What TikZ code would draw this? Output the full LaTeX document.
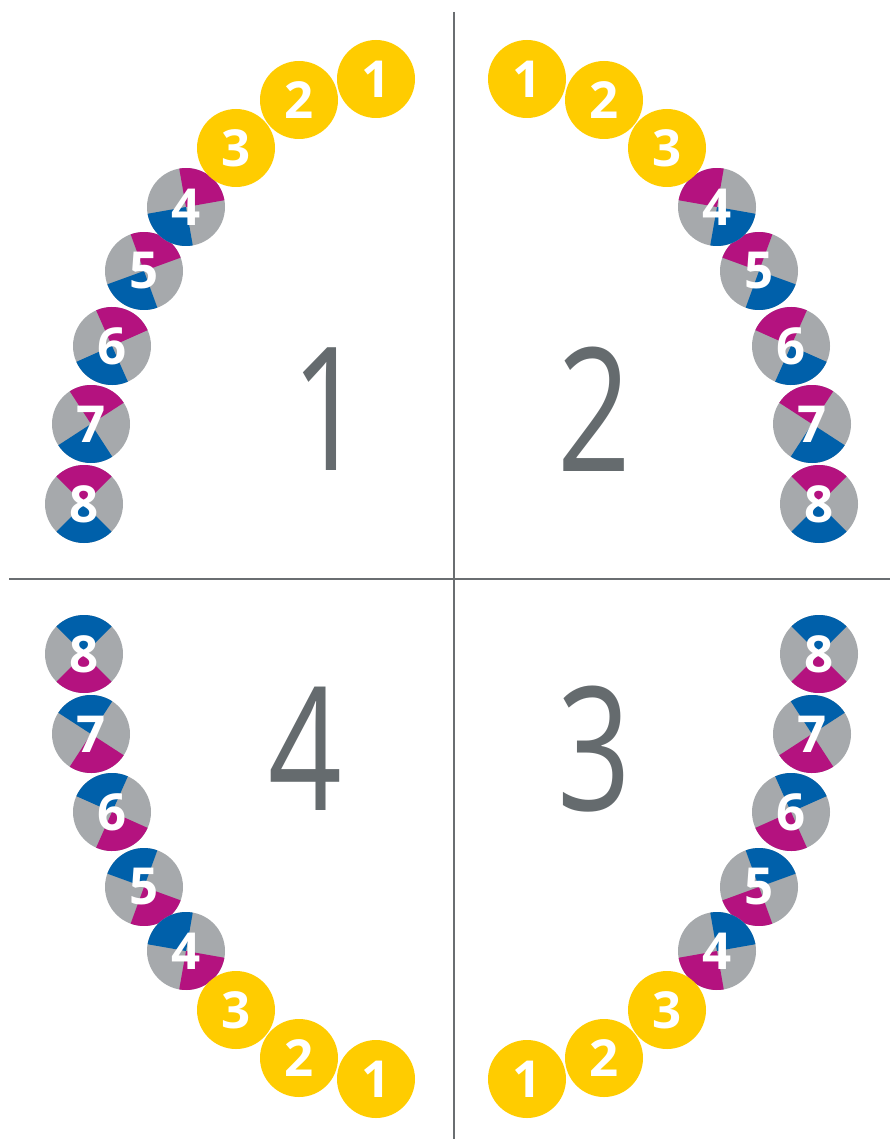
\documentclass[tikz,border=0pt]{standalone}
\usepackage{fontspec}
\setmainfont{Open Sans}
\usepackage{xcolor}
\usepackage{tikz}
\usetikzlibrary{positioning}
\definecolor{toothyellow}{HTML}{FFCC00}
\definecolor{toothmagenta}{HTML}{B4127F}
\definecolor{toothblue}{HTML}{0060AA}
\definecolor{toothgray}{HTML}{A6A9AC}
\definecolor{linegray}{HTML}{6A6E71}
\definecolor{quadgray}{HTML}{656B6E}

\tikzset{
  toothnum/.style={text=white, inner sep=0pt,
    font=\fontsize{51}{51}\selectfont\bfseries},
  quadnum/.style={text=quadgray, inner sep=0pt, xscale=0.75, transform shape,
    font=\fontsize{172}{172}\selectfont},
  axisline/.style={draw=linegray, line width=2pt}
}

\begin{document}
\begin{tikzpicture}[x=1pt, y=1pt]
    \useasboundingbox (0,0) rectangle (890,-1139);

    % cross between the quadrants
    \coordinate (axistop) at (454,-12);
    \coordinate (axisbottom) at (454,-1139);
    \coordinate (axisleft) at (9,-579);
    \coordinate (axisright) at (890,-579);
    \draw[axisline] (axistop) -- (axisbottom);
    \draw[axisline] (axisleft) -- (axisright);

    % quadrant numbers
    \node[quadnum] (quad1) at (328,-409) {1};
    \node[quadnum] (quad2) at (594,-409) {2};
    \node[quadnum] (quad3) at (594,-749) {3};
    \node[quadnum] (quad4) at (305,-749) {4};

    % teeth of quadrant 1, mirrored into the other three
    \foreach \q/\xs/\ys/\xo/\yo in {1/1/1/0/0, 2/-1/1/903/0,
                                    3/-1/-1/903/-1158, 4/1/-1/0/-1158} {
      \begin{scope}[shift={(\xo,\yo)}, xscale=\xs, yscale=\ys]
        \foreach \t/\x/\y/\r in {8/84/504/0, 7/91/424/-12, 6/112/346/-21,
                                 5/144/271/-25, 4/186/207/-35} {
          \fill[toothgray] (\x,-\y) circle (39);
          \fill[toothmagenta] (\x,-\y) -- ++(45+\r:39)
            arc[start angle=45+\r, end angle=135+\r, radius=39] -- cycle;
          \fill[toothblue] (\x,-\y) -- ++(225+\r:39)
            arc[start angle=225+\r, end angle=315+\r, radius=39] -- cycle;
        }
        \foreach \t/\x/\y in {3/236/148, 2/299/100, 1/376/79}
          \fill[toothyellow] (\x,-\y) circle (39);
        \foreach \t/\x/\y in {1/376/79, 2/299/100, 3/236/148, 4/186/207,
                              5/144/271, 6/112/346, 7/91/424, 8/84/504}
          \node[toothnum] (q\q t\t) at (\x,-\y) {\t};
      \end{scope}
    }
\end{tikzpicture}
\end{document}
